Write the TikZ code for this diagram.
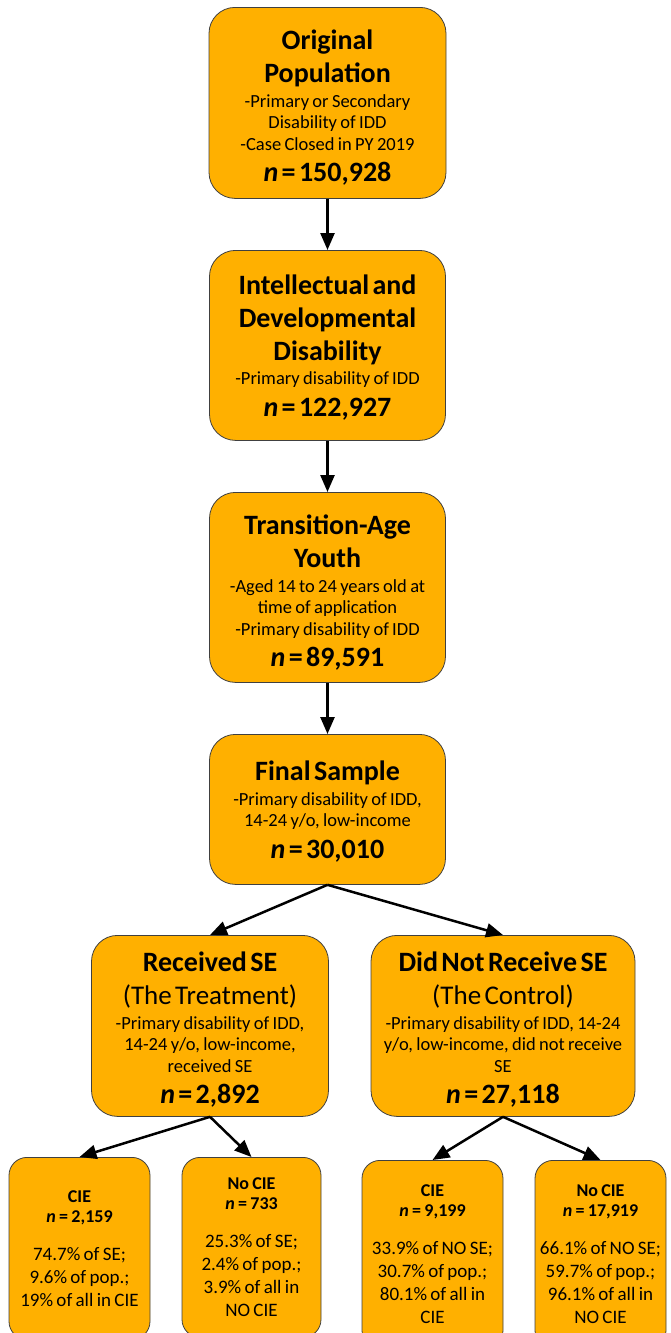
\documentclass[tikz,border=0pt]{standalone}
\usepackage{fontspec}
\setmainfont{Carlito}
\usetikzlibrary{arrows.meta}

\definecolor{boxfill}{RGB}{255,176,0}
\definecolor{boxline}{RGB}{64,64,64}

% text styles inside the boxes; the optional argument raises the first line's
% strut, which lowers the centred text by half that amount
\newcommand\boxtitle[1][4pt]{\fontsize{28}{33}\selectfont\bfseries
  \rule{0pt}{\dimexpr\fontcharht\font`l+#1\relax}\ignorespaces}
\newcommand\boxsubtitle{\par\fontsize{27}{33}\selectfont\mdseries}
\newcommand\boxnote{\par\vspace{3pt}\fontsize{18.5}{21.5}\selectfont\mdseries}
\newcommand\boxcount[1]{\par\vspace{1.5pt}\fontsize{28}{30}\selectfont\bfseries\textit{n} = #1\par}
\newcommand\leafhead{\fontsize{18}{20}\selectfont\bfseries}
\newcommand\leafcount[1]{\par\textit{n} = #1}
\newcommand\leafbody{\par\vspace{15pt}\fontsize{19}{23}\selectfont\mdseries}

\tikzset{
  stage/.style={draw=boxline, line width=0.8pt, fill=boxfill, rounded corners=26pt,
    align=center, inner sep=2pt, anchor=north},
  leaf/.style={stage, rounded corners=18pt, overlay},
  flow/.style={line width=2.5pt, -{Triangle[length=17pt,width=14pt]}}
}

\begin{document}
\begin{tikzpicture}[x=1pt, y=-1pt]
\useasboundingbox (0,0) rectangle (670,1333);

\node[stage, minimum width=237pt, minimum height=191pt, text width=228pt] (orig) at (327.5,7)
  {\boxtitle[10pt] Original\\Population
   \boxnote -Primary or Secondary\\Disability of IDD\\-Case Closed in PY 2019
   \boxcount{150,928}};

\node[stage, minimum width=236pt, minimum height=190pt, text width=228pt] (idd) at (327.5,250)
  {\boxtitle Intellectual and\\Developmental\\Disability
   \boxnote -Primary disability of IDD
   \boxcount{122,927}};

\node[stage, minimum width=236pt, minimum height=190pt, text width=228pt] (youth) at (327.5,492)
  {\boxtitle[11pt] Transition-Age\\Youth
   \boxnote -Aged 14 to 24 years old at\\time of application\\-Primary disability of IDD
   \boxcount{89,591}};

\node[stage, minimum width=236pt, minimum height=150pt, text width=228pt] (final) at (327.5,734)
  {\boxtitle Final Sample
   \boxnote -Primary disability of IDD,\\14-24 y/o, low-income
   \boxcount{30,010}};

\node[stage, minimum width=237pt, minimum height=181pt, text width=229pt] (treat) at (210,935)
  {\boxtitle[8pt] Received SE
   \boxsubtitle (The Treatment)
   \boxnote -Primary disability of IDD,\\14-24 y/o, low-income,\\received SE
   \boxcount{2,892}};

\node[stage, minimum width=264pt, minimum height=181pt, text width=256pt] (ctrl) at (503,935)
  {\boxtitle[8pt] Did Not Receive SE
   \boxsubtitle (The Control)
   \boxnote -Primary disability of IDD, 14-24\\y/o, low-income, did not receive\\SE
   \boxcount{27,118}};

% outcome boxes run past the lower edge of the page
\begin{scope}
\clip (0,0) rectangle (670,1333);
\node[leaf, minimum width=141pt, minimum height=182pt, text width=135pt] (tcie) at (79.5,1157)
  {\leafhead CIE\leafcount{2,159}
   \leafbody 74.7\% of SE;\\9.6\% of pop.;\\19\% of all in CIE\par};

\node[leaf, minimum width=139pt, minimum height=180pt, text width=133pt] (tno) at (251.5,1157)
  {\leafhead No CIE\leafcount{733}
   \leafbody 25.3\% of SE;\\2.4\% of pop.;\\3.9\% of all in\\NO CIE\par};

\node[leaf, minimum width=141pt, minimum height=188pt, text width=135pt] (ccie) at (432.5,1160)
  {\leafhead CIE\leafcount{9,199}
   \leafbody 33.9\% of NO SE;\\30.7\% of pop.;\\80.1\% of all in\\CIE\par};

\node[leaf, minimum width=131pt, minimum height=188pt, text width=127pt] (cno) at (600.5,1160)
  {\leafhead No CIE\leafcount{17,919}
   \leafbody 66.1\% of NO SE;\\59.7\% of pop.;\\96.1\% of all in\\NO CIE\par};
\end{scope}

\draw[flow] (orig.south) -- (idd.north);
\draw[flow] (idd.south) -- (youth.north);
\draw[flow] (youth.south) -- (final.north);
\draw[flow] (final.south) -- (treat.north);
\draw[flow] (final.south) -- (ctrl.north);
\draw[flow] (treat.south) -- (tcie.north);
\draw[flow] (treat.south) -- (tno.north);
\draw[flow] (ctrl.south) -- (ccie.north);
\draw[flow] (ctrl.south) -- (cno.north);
\end{tikzpicture}
\end{document}
